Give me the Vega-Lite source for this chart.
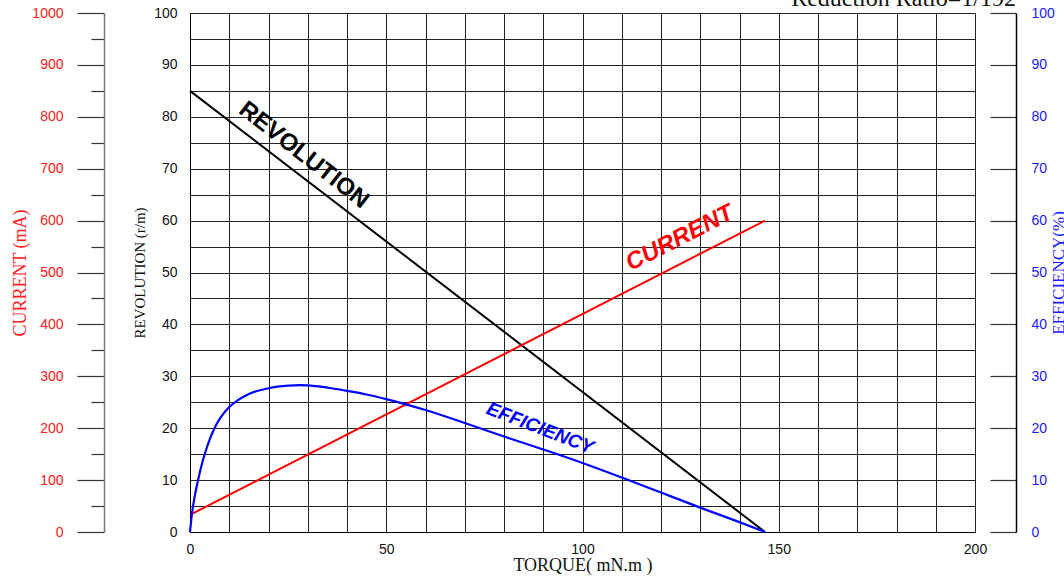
{
  "$schema": "https://vega.github.io/schema/vega-lite/v6.json",
  "width": 785,
  "height": 519,
  "autosize": {"type": "none"},
  "padding": {"left": 190, "top": 13, "right": 89, "bottom": 45},
  "background": "white",
  "config": {
    "view": {"stroke": null},
    "axis": {"labelFont": "Liberation Sans", "titleFont": "Liberation Serif", "titleFontWeight": "normal", "labelFontSize": 14, "labelFlush": false}
  },
  "title": {
    "text": "Reduction Ratio=1/192",
    "anchor": "end",
    "frame": "group",
    "font": "Liberation Serif",
    "fontSize": 24,
    "fontWeight": "normal",
    "color": "#111111",
    "baseline": "alphabetic",
    "dx": 41,
    "dy": 24,
    "offset": 0
  },
  "datasets": {
    "revolution": [{"torque": 0, "rev": 85}, {"torque": 146.5, "rev": 0}],
    "current": [{"torque": 0, "current": 33}, {"torque": 146.5, "current": 600}],
    "efficiency": [
      {"torque": 0, "eff": 0}, {"torque": 0.5, "eff": 3.5}, {"torque": 1, "eff": 6}, {"torque": 2, "eff": 9.8},
      {"torque": 3, "eff": 13}, {"torque": 4, "eff": 15.6}, {"torque": 5, "eff": 17.8}, {"torque": 6, "eff": 19.6},
      {"torque": 7, "eff": 21.1}, {"torque": 8, "eff": 22.3}, {"torque": 10, "eff": 24.1}, {"torque": 12, "eff": 25.3},
      {"torque": 15, "eff": 26.6}, {"torque": 20, "eff": 27.7}, {"torque": 25, "eff": 28.2}, {"torque": 28, "eff": 28.3},
      {"torque": 32, "eff": 28.1}, {"torque": 36, "eff": 27.7}, {"torque": 40, "eff": 27.2}, {"torque": 45, "eff": 26.5},
      {"torque": 50, "eff": 25.6}, {"torque": 55, "eff": 24.6}, {"torque": 60, "eff": 23.5}, {"torque": 70, "eff": 21.0},
      {"torque": 80, "eff": 18.4}, {"torque": 90, "eff": 15.9}, {"torque": 100, "eff": 13.3}, {"torque": 110, "eff": 10.5},
      {"torque": 120, "eff": 7.6}, {"torque": 130, "eff": 4.7}, {"torque": 140, "eff": 1.9}, {"torque": 146.5, "eff": 0}
    ],
    "revLabel": [{"torque": 29, "value": 72.6, "label": "REVOLUTION"}],
    "curLabel": [{"torque": 124.8, "value": 56.6, "label": "CURRENT"}],
    "effLabel": [{"torque": 89.2, "value": 20.0, "label": "EFFICIENCY"}]
  },
  "encoding": {
    "x": {
      "field": "torque",
      "type": "quantitative",
      "scale": {"domain": [0, 200], "nice": false, "zero": false},
      "axis": {
        "values": [0, 10, 20, 30, 40, 50, 60, 70, 80, 90, 100, 110, 120, 130, 140, 150, 160, 170, 180, 190, 200],
        "labelExpr": "datum.value % 50 === 0 ? datum.label : ''",
        "ticks": false,
        "grid": true,
        "gridColor": "#222222",
        "gridWidth": 1,
        "gridOpacity": 1,
        "domainColor": "#000000",
        "domainWidth": 1,
        "labelColor": "#111111",
        "labelPadding": 10,
        "labelOverlap": false,
        "title": "TORQUE( mN.m )",
        "titleFontSize": 18,
        "titleColor": "#111111",
        "titlePadding": 0
      }
    }
  },
  "layer": [
    {
      "data": {"name": "revolution"},
      "mark": {"type": "line", "color": "#000000", "strokeWidth": 2},
      "encoding": {
        "y": {
          "field": "rev",
          "type": "quantitative",
          "scale": {"domain": [0, 100], "nice": false},
          "axis": {
            "orient": "left",
            "values": [0, 5, 10, 15, 20, 25, 30, 35, 40, 45, 50, 55, 60, 65, 70, 75, 80, 85, 90, 95, 100],
            "labelExpr": "datum.value % 10 === 0 ? datum.label : ''",
            "ticks": false,
            "grid": true,
            "gridColor": "#222222",
            "gridWidth": 1,
            "gridOpacity": 1,
            "domainColor": "#000000",
            "labelColor": "#111111",
            "labelPadding": 13,
            "labelOverlap": false,
            "title": "REVOLUTION (r/m)",
            "titleFontSize": 15,
            "titleColor": "#111111",
            "titlePadding": 6
          }
        }
      }
    },
    {
      "data": {"name": "current"},
      "mark": {"type": "line", "color": "#ff0000", "strokeWidth": 2},
      "encoding": {
        "y": {
          "field": "current",
          "type": "quantitative",
          "scale": {"domain": [0, 1000], "nice": false},
          "axis": {
            "orient": "left",
            "offset": 86,
            "format": "d",
            "values": [0, 50, 100, 150, 200, 250, 300, 350, 400, 450, 500, 550, 600, 650, 700, 750, 800, 850, 900, 950, 1000],
            "labelExpr": "datum.value % 100 === 0 ? datum.label : ''",
            "tickSize": {"condition": {"test": "datum.value % 100 === 0", "value": 27}, "value": 13},
            "tickColor": "#333333",
            "tickWidth": 1.2,
            "grid": false,
            "domainColor": "#777777",
            "domainWidth": 1.5,
            "labelColor": "#ff2020",
            "labelPadding": 14,
            "labelOverlap": false,
            "title": "CURRENT (mA)",
            "titleFontSize": 18,
            "titleColor": "#ff2020",
            "titlePadding": 2
          }
        }
      }
    },
    {
      "data": {"name": "efficiency"},
      "mark": {"type": "line", "color": "#0000ff", "strokeWidth": 2.2, "interpolate": "monotone"},
      "encoding": {
        "y": {
          "field": "eff",
          "type": "quantitative",
          "scale": {"domain": [0, 100], "nice": false},
          "axis": {
            "orient": "right",
            "offset": 41,
            "values": [0, 10, 20, 30, 40, 50, 60, 70, 80, 90, 100],
            "tickSize": -26,
            "tickColor": "#333333",
            "tickWidth": 1.2,
            "grid": false,
            "domainColor": "#000000",
            "domainWidth": 1.5,
            "labelColor": "#1a1aff",
            "labelPadding": 41,
            "labelOverlap": false,
            "title": "EFFICIENCY(%)",
            "titleAngle": -90,
            "titleFontSize": 17,
            "titleColor": "#1a1aff",
            "titlePadding": 13
          }
        }
      }
    },
    {
      "data": {"name": "revLabel"},
      "mark": {"type": "text", "angle": 38, "font": "Liberation Sans", "fontWeight": "bold", "fontSize": 24, "color": "#000000", "align": "center", "baseline": "middle"},
      "encoding": {
        "y": {"field": "value", "type": "quantitative", "scale": {"domain": [0, 100], "nice": false}, "axis": null},
        "text": {"field": "label"}
      }
    },
    {
      "data": {"name": "curLabel"},
      "mark": {"type": "text", "angle": -27, "font": "Liberation Sans", "fontWeight": "bold", "fontStyle": "italic", "fontSize": 24, "color": "#ff0000", "align": "center", "baseline": "middle"},
      "encoding": {
        "y": {"field": "value", "type": "quantitative", "scale": {"domain": [0, 100], "nice": false}, "axis": null},
        "text": {"field": "label"}
      }
    },
    {
      "data": {"name": "effLabel"},
      "mark": {"type": "text", "angle": 21, "font": "Liberation Sans", "fontWeight": "bold", "fontStyle": "italic", "fontSize": 19, "color": "#0000ff", "align": "center", "baseline": "middle"},
      "encoding": {
        "y": {"field": "value", "type": "quantitative", "scale": {"domain": [0, 100], "nice": false}, "axis": null},
        "text": {"field": "label"}
      }
    }
  ],
  "resolve": {"scale": {"y": "independent"}, "axis": {"y": "independent"}}
}
